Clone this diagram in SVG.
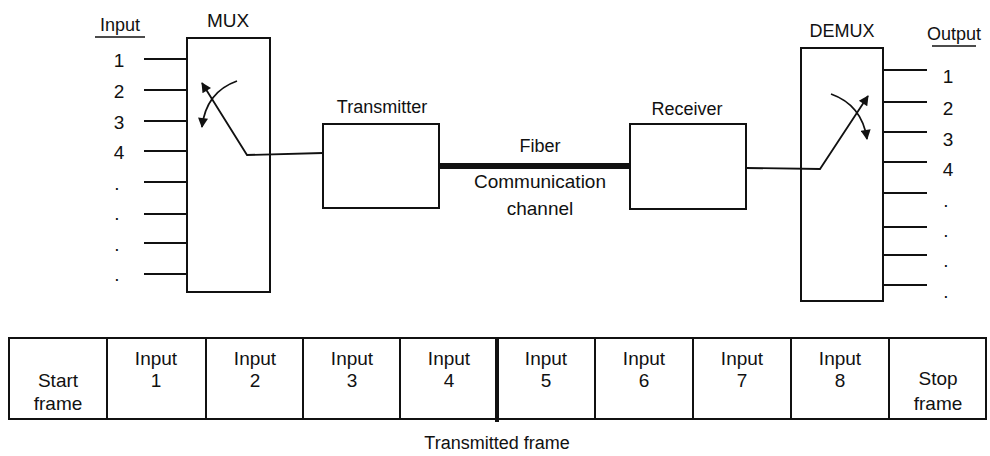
<svg xmlns="http://www.w3.org/2000/svg" width="990" height="456" viewBox="0 0 990 456">
<style>
text{font-family:"Liberation Sans",Arial,sans-serif;font-size:19px;fill:#111;text-anchor:middle}
.box{fill:#fff;stroke:#111;stroke-width:2}
.ln{stroke:#111;stroke-width:2;fill:none}
.sw{stroke:#111;stroke-width:1.8;fill:none}
.l{text-anchor:start}
</style>
<defs>
<marker id="ah" viewBox="0 0 10 10" refX="9" refY="5" markerWidth="6" markerHeight="6" markerUnits="userSpaceOnUse" orient="auto">
<path d="M0,0 L10,5 L0,10 z" fill="#111"/>
</marker>
<marker id="ah2" viewBox="0 0 10 10" refX="9" refY="5" markerWidth="12" markerHeight="10" markerUnits="userSpaceOnUse" orient="auto">
<path d="M0,0 L10,5 L0,10 z" fill="#111"/>
</marker>
</defs>
<rect width="990" height="456" fill="#fff"/>

<g id="connectors">
<path class="ln" d="M144,59H187M144,90H187M144,121H187M144,151H187M144,182H187M144,214H187M144,243H187M144,274H187"/>
<path class="ln" d="M883,70H927M883,102H927M883,132H927M883,162H927M883,193H927M883,227H927M883,255H927M883,285H927"/>
<line x1="439" y1="166" x2="630" y2="166" stroke="#111" stroke-width="6"/>
</g>

<g id="mux">
<rect class="box" x="187" y="38" width="83" height="254"/>
<text x="228" y="27">MUX</text>
<path class="sw" d="M323,153 L247,155 L202,83" marker-end="url(#ah2)"/>
<path class="sw" d="M237,81 Q206,92 202,127" marker-end="url(#ah2)"/>
</g>

<g id="transmitter">
<rect class="box" x="323" y="124" width="116" height="84"/>
<text x="382" y="113" style="font-size:18px">Transmitter</text>
</g>

<g id="fiber-label">
<text x="540" y="152" style="font-size:18px">Fiber</text>
<text x="540" y="188">Communication</text>
<text x="540" y="215">channel</text>
</g>

<g id="receiver">
<rect class="box" x="630" y="124" width="116" height="85"/>
<text x="687" y="115" style="font-size:18px">Receiver</text>
</g>

<g id="demux">
<rect class="box" x="801" y="48" width="82" height="253"/>
<text x="842" y="37" style="font-size:18px">DEMUX</text>
<path class="sw" d="M746,168 L820,169 L868,96" marker-end="url(#ah2)"/>
<path class="sw" d="M831,94 Q862,105 867,139" marker-end="url(#ah2)"/>
</g>

<g id="input-labels">
<text x="120" y="31" style="font-size:18px">Input</text>
<line x1="95" y1="37" x2="145" y2="37" stroke="#111" stroke-width="1.5"/>
<text x="119" y="67">1</text>
<text x="119" y="98">2</text>
<text x="119" y="129">3</text>
<text x="119" y="159">4</text>
<text x="117" y="190">.</text>
<text x="117" y="220">.</text>
<text x="117" y="251">.</text>
<text x="117" y="281">.</text>
</g>

<g id="output-labels">
<text x="954" y="40" style="font-size:18px">Output</text>
<line x1="932" y1="46" x2="976" y2="46" stroke="#111" stroke-width="1.5"/>
<text x="948" y="83">1</text>
<text x="948" y="115">2</text>
<text x="948" y="146">3</text>
<text x="948" y="176">4</text>
<text x="946" y="207">.</text>
<text x="946" y="237">.</text>
<text x="946" y="267">.</text>
<text x="946" y="298">.</text>
</g>

<g id="frame">
<rect class="box" x="9" y="338" width="977" height="81"/>
<path class="ln" d="M107,338V419M206,338V419M303,338V419M400,338V419M595,338V419M693,338V419M791,338V419M889,338V419"/>
<line x1="497" y1="337" x2="497" y2="422" stroke="#111" stroke-width="4"/>
<text x="58" y="387">Start</text>
<text x="58" y="410">frame</text>
<text x="156" y="365">Input</text><text x="156" y="387">1</text>
<text x="255" y="365">Input</text><text x="255" y="387">2</text>
<text x="352" y="365">Input</text><text x="352" y="387">3</text>
<text x="449" y="365">Input</text><text x="449" y="387">4</text>
<text x="546" y="365">Input</text><text x="546" y="387">5</text>
<text x="644" y="365">Input</text><text x="644" y="387">6</text>
<text x="742" y="365">Input</text><text x="742" y="387">7</text>
<text x="840" y="365">Input</text><text x="840" y="387">8</text>
<text x="938" y="385">Stop</text>
<text x="938" y="410">frame</text>
<text x="497" y="449" style="font-size:18px">Transmitted frame</text>
</g>
</svg>
